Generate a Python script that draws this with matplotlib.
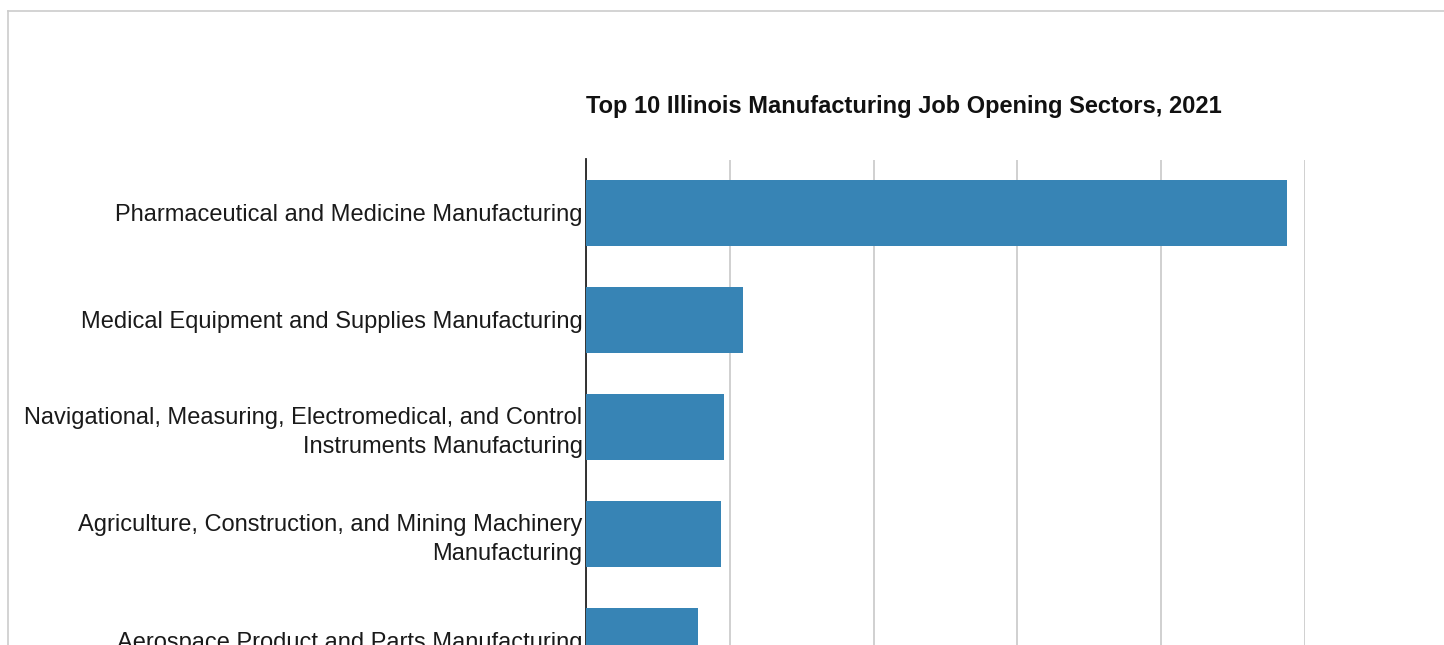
import matplotlib
matplotlib.use("Agg")
import matplotlib.pyplot as plt
from matplotlib.lines import Line2D

categories = [
    "Pharmaceutical and Medicine Manufacturing",
    "Medical Equipment and Supplies Manufacturing",
    "Navigational, Measuring, Electromedical, and Control\nInstruments Manufacturing",
    "Agriculture, Construction, and Mining Machinery\nManufacturing",
    "Aerospace Product and Parts Manufacturing",
]
values = [4875, 1090, 960, 940, 780]
x_ticks = [0, 1000, 2000, 3000, 4000, 5000]
title = "Top 10 Illinois Manufacturing Job Opening Sectors, 2021"

W, H = 1444, 645
fig = plt.figure(figsize=(W / 100, H / 100), dpi=100)
fig.patch.set_facecolor("white")

band = 107.0
n_slots = 10
top_px = 159.5
left_px, right_px = 586, 1305
ax_h = band * n_slots
ax = fig.add_axes([left_px / W, (H - top_px - ax_h) / H,
                   (right_px - left_px) / W, ax_h / H])

ypos = list(range(len(categories)))
ax.barh(ypos, values, height=0.62, color="#3784b5", zorder=3)
ax.set_ylim(n_slots - 0.5, -0.5)
ax.set_xlim(x_ticks[0], x_ticks[-1])
ax.set_xticks(x_ticks)
ax.xaxis.grid(True, color="#d0d0d0", linewidth=1.4, zorder=0)
ax.set_axisbelow(True)
ax.tick_params(axis="x", length=0, labelbottom=False)
ax.set_yticks(ypos)
ax.set_yticklabels(categories, fontsize=17, color="#1a1a1a",
                   family=["Liberation Sans", "DejaVu Sans"], linespacing=1.4)
ax.tick_params(axis="y", length=0, pad=2.5)
for s in ["top", "right", "bottom"]:
    ax.spines[s].set_visible(False)
ax.spines["left"].set_color("#222222")
ax.spines["left"].set_linewidth(1.3)

fig.text(left_px / W, 1 - 106 / H, title, fontsize=17, fontweight="bold",
         family=["Liberation Sans Narrow", "Liberation Sans", "DejaVu Sans"],
         ha="left", va="center", color="#111111")

# outer frame (top and left edges of the card)
fig.add_artist(Line2D([8 / W, 1.0], [1 - 11 / H, 1 - 11 / H], transform=fig.transFigure,
                      color="#cccccc", linewidth=1.2))
fig.add_artist(Line2D([8 / W, 8 / W], [0, 1 - 11 / H], transform=fig.transFigure,
                      color="#cccccc", linewidth=1.2))

fig.savefig("out.png", dpi=100)
